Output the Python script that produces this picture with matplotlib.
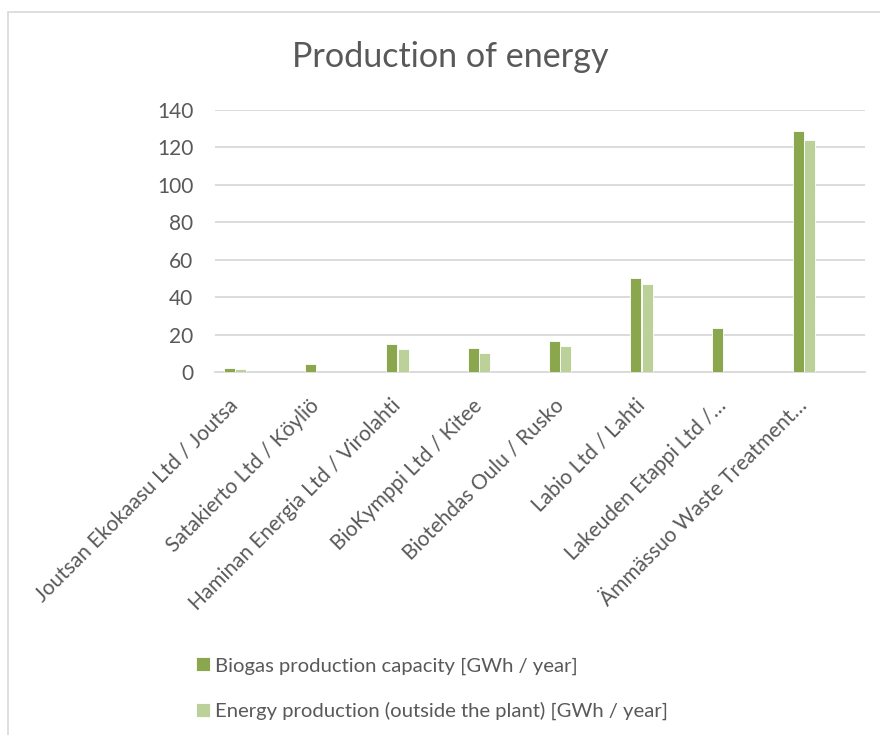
import matplotlib
matplotlib.use("Agg")
import matplotlib.pyplot as plt
from matplotlib.patches import Rectangle
import numpy as np

categories = [
    "Joutsan Ekokaasu Ltd / Joutsa",
    "Satakierto Ltd / Köyliö",
    "Haminan Energia Ltd / Virolahti",
    "BioKymppi Ltd / Kitee",
    "Biotehdas Oulu / Rusko",
    "Labio Ltd / Lahti",
    "Lakeuden Etappi Ltd /…",
    "Ämmässuo Waste Treatment…",
]
biogas_capacity = [2.0, 4.5, 15.0, 13.0, 16.5, 50.0, 23.5, 129.0]
energy_outside = [1.5, 0.0, 12.5, 10.0, 14.0, 47.0, 0.0, 124.0]
series_names = [
    "Biogas production capacity [GWh / year]",
    "Energy production (outside the plant) [GWh / year]",
]
yticks = [0, 20, 40, 60, 80, 100, 120, 140]

DARK = "#8AA74E"
LIGHT = "#BBD199"
TXT = "#595959"
GRID = "#D9D9D9"

plt.rcParams['font.family'] = ['Lato', 'DejaVu Sans']

W, H = 880, 735
fig = plt.figure(figsize=(W / 100, H / 100), dpi=100)

# chart border
fig.patches.append(Rectangle((8 / W, -0.01), 1.2, 1 - 12 / H + 0.01, transform=fig.transFigure,
                             fill=False, edgecolor=GRID, linewidth=1.2))

left, right = 215 / W, 865 / W
bottom, top = 1 - 372 / H, 1 - 110 / H
ax = fig.add_axes([left, bottom, right - left, top - bottom])

x = np.arange(len(categories))
bw = 0.135
ax.bar(x - 0.07, biogas_capacity, width=bw, color=DARK, edgecolor="white", linewidth=0.6,
       label=series_names[0], zorder=3)
ax.bar(x + 0.07, energy_outside, width=bw, color=LIGHT, edgecolor="white", linewidth=0.6,
       label=series_names[1], zorder=3)

ax.set_xlim(-0.246, 7.75)
ax.set_ylim(0, 140)
ax.set_yticks(yticks)
ax.set_yticklabels([str(v) for v in yticks], fontsize=15, color=TXT)
ax.tick_params(axis='y', length=0, pad=15.5)
ax.set_xticks(x)
ax.set_xticklabels(categories, rotation=45, ha='right', va='center', rotation_mode='anchor',
                   fontsize=15, color=TXT)
ax.tick_params(axis='x', length=0, pad=22)
ax.yaxis.grid(True, color=GRID, linewidth=1.3, zorder=0)
for s in ['top', 'right', 'left']:
    ax.spines[s].set_visible(False)
ax.spines['bottom'].set_color(GRID)
ax.spines['bottom'].set_linewidth(1.3)

fig.text(450 / W, 1 - 57 / H, "Production of energy", ha='center', va='center',
         fontsize=24.6, color=TXT)

handles, labels = ax.get_legend_handles_labels()
leg = fig.legend(handles, labels, loc='upper left', bbox_to_anchor=(178 / W, 1 - 639 / H),
                 frameon=False, fontsize=14.6, labelcolor=TXT, handlelength=0.7,
                 handleheight=0.7, handletextpad=0.2, labelspacing=1.35)

fig.savefig("out.png", dpi=100, facecolor="white")
